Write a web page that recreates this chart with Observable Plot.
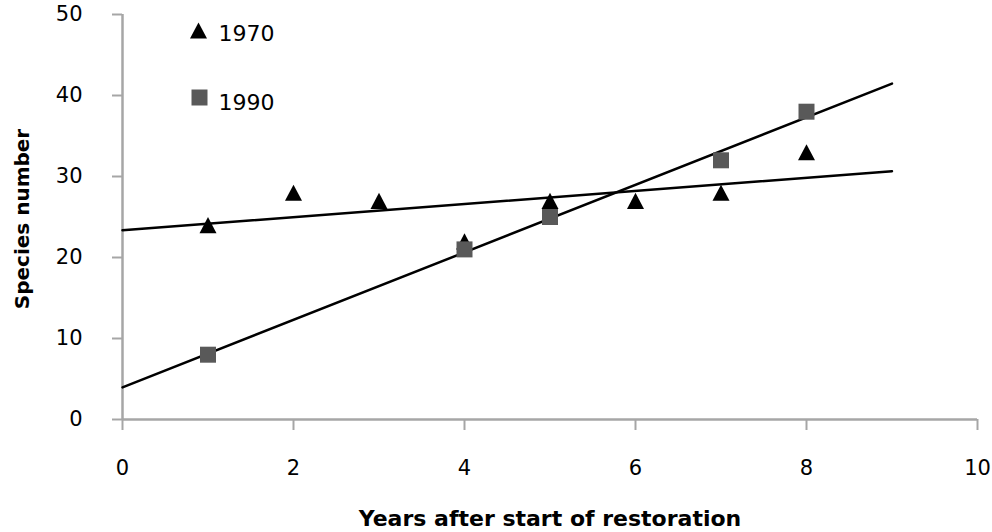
<!DOCTYPE html>
<html>
<head>
<meta charset="utf-8">
<script src="https://cdn.jsdelivr.net/npm/d3@7"></script>
<script src="https://cdn.jsdelivr.net/npm/@observablehq/plot@0.6"></script>
<style>
  html, body { margin: 0; padding: 0; background: #fff; }
  #chart { width: 992px; height: 532px; }
</style>
</head>
<body>
<div id="chart"></div>
<script>
// ---- data ----
const years1970 = [1, 2, 3, 4, 5, 6, 7, 8];
const species1970 = [24, 28, 27, 22, 27, 27, 28, 33];
const years1990 = [1, 4, 5, 7, 8];
const species1990 = [8, 21, 25, 32, 38];
const seriesNames = ["1970", "1990"];
const xTicks = [0, 2, 4, 6, 8, 10];
const yTicks = [0, 10, 20, 30, 40, 50];
const trendRange = [0, 9];
const xTitle = "Years after start of restoration";
const yTitle = "Species number";

const pts1970 = years1970.map((x, i) => ({x, y: species1970[i]}));
const pts1990 = years1990.map((x, i) => ({x, y: species1990[i]}));

// least-squares trend lines computed from the series
function fit(xs, ys) {
  const mx = d3.mean(xs), my = d3.mean(ys);
  const sxy = d3.sum(xs, (x, i) => (x - mx) * (ys[i] - my));
  const sxx = d3.sum(xs, x => (x - mx) ** 2);
  const b = sxy / sxx, a = my - b * mx;
  return trendRange.map(x => ({x, y: a + b * x}));
}
const trend1970 = fit(years1970, species1970);
const trend1990 = fit(years1990, species1990);

// bbox-centred triangle symbol
const tri = {
  draw(ctx, size) {
    const w = Math.sqrt(size), h = w * 0.95;
    ctx.moveTo(0, -h / 2);
    ctx.lineTo(w / 2, h / 2);
    ctx.lineTo(-w / 2, h / 2);
    ctx.closePath();
  }
};
const triR = 17 / Math.sqrt(Math.PI);
const sqR = 16 / Math.sqrt(Math.PI);
const axisGray = "#a6a6a6";
const sqColor = "#595959";
const font = '"DejaVu Sans", Verdana, sans-serif';

const chart = Plot.plot({
  width: 992,
  height: 532,
  marginLeft: 122,
  marginRight: 15,
  marginTop: 14,
  marginBottom: 113,
  style: {fontFamily: font, background: "#fff"},
  x: {domain: [0, 10], label: null},
  y: {domain: [0, 50], label: null},
  marks: [
    // tick marks
    Plot.axisX({ticks: xTicks, tickSize: 11, stroke: axisGray, strokeWidth: 2, tickFormat: () => ""}),
    Plot.axisY({ticks: yTicks, tickSize: 10, stroke: axisGray, strokeWidth: 2, tickFormat: () => ""}),
    // tick labels
    Plot.axisX({ticks: xTicks, tickSize: 0, tickPadding: 41, fontSize: 21, fill: "#000", stroke: null}),
    Plot.axisY({ticks: yTicks, tickSize: 0, tickPadding: 40, fontSize: 21, fill: "#000", stroke: null}),
    // axis lines
    Plot.ruleY([0], {stroke: axisGray, strokeWidth: 2.5}),
    Plot.ruleX([0], {stroke: axisGray, strokeWidth: 2.5}),
    // trend lines
    Plot.line(trend1970, {x: "x", y: "y", stroke: "#000", strokeWidth: 2.5}),
    Plot.line(trend1990, {x: "x", y: "y", stroke: "#000", strokeWidth: 2.5}),
    // points
    Plot.dot(pts1970, {x: "x", y: "y", symbol: tri, r: triR, fill: "#000", stroke: null}),
    Plot.dot(pts1990, {x: "x", y: "y", symbol: "square", r: sqR, fill: sqColor, stroke: null}),
    // legend
    Plot.dot([seriesNames[0]], {frameAnchor: "top-left", dx: 76, dy: 16, symbol: tri, r: triR, fill: "#000", stroke: null}),
    Plot.dot([seriesNames[1]], {frameAnchor: "top-left", dx: 77, dy: 83, symbol: "square", r: sqR, fill: sqColor, stroke: null}),
    Plot.text([seriesNames[0]], {text: d => d, frameAnchor: "top-left", dx: 96, dy: 19, textAnchor: "start", lineAnchor: "middle", fontSize: 22, fill: "#000"}),
    Plot.text([seriesNames[1]], {text: d => d, frameAnchor: "top-left", dx: 96, dy: 88, textAnchor: "start", lineAnchor: "middle", fontSize: 22, fill: "#000"}),
    // axis titles
    Plot.text([xTitle], {text: d => d, frameAnchor: "bottom", dy: 99, textAnchor: "middle", lineAnchor: "middle", fontSize: 22, fontWeight: "bold", fill: "#000"}),
    Plot.text([yTitle], {text: d => d, frameAnchor: "left", dx: -100, dy: 2, rotate: -90, textAnchor: "middle", lineAnchor: "middle", fontSize: 20, fontWeight: "bold", fill: "#000"})
  ]
});
document.getElementById("chart").appendChild(chart);
</script>
</body>
</html>
